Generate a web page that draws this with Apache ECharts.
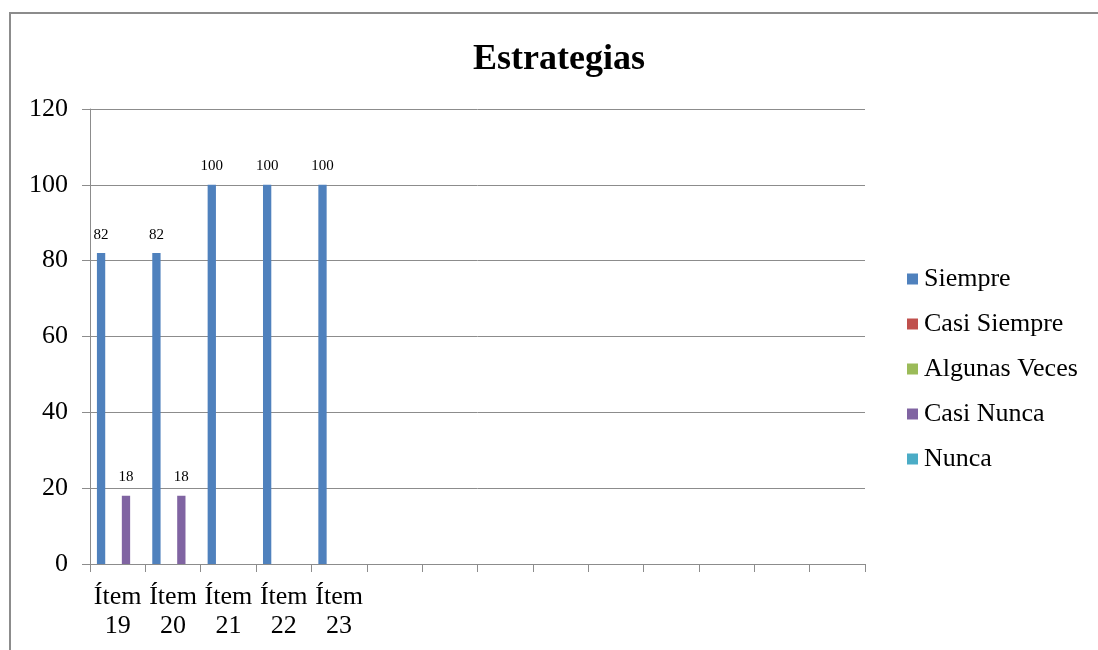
<!DOCTYPE html>
<html>
<head>
<meta charset="utf-8">
<script src="https://cdn.jsdelivr.net/npm/echarts@6/dist/echarts.min.js"></script>
<style>
  html, body { margin: 0; padding: 0; background: #fff; }
  #chart { width: 1098px; height: 650px; }
  .frame {
    position: absolute; left: 9px; top: 12px; right: 0; bottom: 0;
    border-top: 2px solid #8c8c8c; border-left: 2px solid #8c8c8c;
    pointer-events: none;
  }
</style>
</head>
<body>
<div id="chart"></div>
<div class="frame"></div>
<script>
// categorías (las vacías completan el eje como en el original)
const categories = ['Ítem\n19', 'Ítem\n20', 'Ítem\n21', 'Ítem\n22', 'Ítem\n23',
  '', '', '', '', '', '', '', '', '']
const seriesNames = ['Siempre', 'Casi Siempre', 'Algunas Veces', 'Casi Nunca', 'Nunca']
const siempre = [82, 82, 100, 100, 100]
const casiSiempre = [0, 0, 0, 0, 0]
const algunasVeces = [0, 0, 0, 0, 0]
const casiNunca = [18, 18, 0, 0, 0]
const nunca = [0, 0, 0, 0, 0]
const colors = ['#4F81BD', '#C0504D', '#9BBB59', '#8064A2', '#4BACC6']
const yTicks = { min: 0, max: 120, interval: 20 }

const font = "'Liberation Serif', 'Times New Roman', serif"
const values = [siempre, casiSiempre, algunasVeces, casiNunca, nunca]

const chart = echarts.init(document.getElementById('chart'))

chart.setOption({
  animation: false,
  color: colors,
  title: {
    text: 'Estrategias',
    left: 468,
    top: 37,
    textStyle: { fontFamily: font, fontSize: 36, fontWeight: 'bold', color: '#000' },
  },
  legend: {
    orient: 'vertical',
    left: 902,
    top: 261,
    itemWidth: 11,
    itemHeight: 11,
    itemGap: 19,
    icon: 'rect',
    data: seriesNames,
    textStyle: { fontFamily: font, fontSize: 26, lineHeight: 26, color: '#000', padding: [0, 0, 0, 1] },
  },
  grid: { left: 90, right: 233, top: 109, bottom: 86 },
  xAxis: {
    type: 'category',
    data: categories,
    axisLine: { lineStyle: { color: '#8c8c8c', width: 1 } },
    axisTick: { show: true, length: 8, lineStyle: { color: '#8c8c8c' } },
    axisLabel: {
      interval: 0,
      margin: 19,
      fontFamily: font,
      fontSize: 26,
      lineHeight: 29,
      color: '#000',
    },
  },
  yAxis: {
    type: 'value',
    min: yTicks.min,
    max: yTicks.max,
    interval: yTicks.interval,
    axisLine: { show: true, lineStyle: { color: '#8c8c8c', width: 1 } },
    axisTick: { show: true, length: 8, lineStyle: { color: '#8c8c8c' } },
    axisLabel: { margin: 22, fontFamily: font, fontSize: 26, color: '#000' },
    splitLine: { lineStyle: { color: '#8c8c8c', width: 1 } },
  },
  series: seriesNames.map((name, i) => ({
    name,
    type: 'bar',
    barGap: '0%',
    barCategoryGap: '25%',
    data: values[i],
    label: {
      show: true,
      position: 'top',
      distance: 11,
      fontFamily: font,
      fontSize: 15,
      color: '#000',
      formatter: p => (p.value ? p.value : ''),
    },
  })),
})
</script>
</body>
</html>
